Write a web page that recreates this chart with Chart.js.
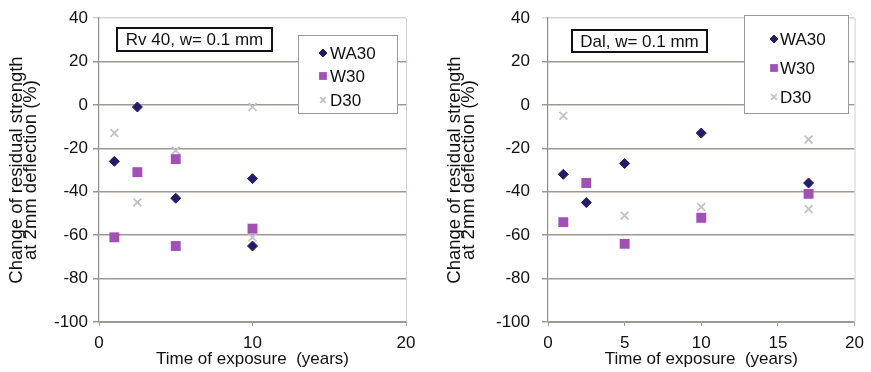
<!DOCTYPE html>
<html>
<head>
<meta charset="utf-8">
<script src="https://cdn.jsdelivr.net/npm/chart.js@4.4.0/dist/chart.umd.min.js"></script>
<style>
  body { margin: 0; background: #fff; }
  #wrap { position: relative; width: 871px; height: 372px; }
  canvas { position: absolute; top: 0; }
</style>
</head>
<body>
<div id="wrap">
  <canvas id="rv40" width="435" height="372" style="left:0px"></canvas>
  <canvas id="dal" width="436" height="372" style="left:435px"></canvas>
</div>
<script>
const seriesNames = ['WA30', 'W30', 'D30'];
const yTicks = [40, 20, 0, -20, -40, -60, -80, -100];

// Rv 40, w= 0.1 mm
const rvWA30x = [1, 2.5, 5, 10, 10];
const rvWA30y = [-26, -1, -43, -34, -65];
const rvW30x = [1, 2.5, 5, 5, 10];
const rvW30y = [-61, -31, -25, -65, -57];
const rvD30x = [1, 2.5, 5, 10, 10];
const rvD30y = [-13, -45, -21, -61, -1];
const rvXTicks = [0, 10, 20];

// Dal, w= 0.1 mm
const dalWA30x = [1, 2.5, 5, 10, 17];
const dalWA30y = [-32, -45, -27, -13, -36];
const dalW30x = [1, 2.5, 5, 10, 17];
const dalW30y = [-54, -36, -64, -52, -41];
const dalD30x = [1, 5, 10, 17, 17];
const dalD30y = [-5, -51, -47, -16, -48];
const dalXTicks = [0, 5, 10, 15, 20];

const FONT = "'Liberation Sans', Arial, sans-serif";

const styles = [
  { pointStyle: 'rectRot', radius: 5, color: '#231c6c', border: 1 },
  { pointStyle: 'rect', radius: 7, color: '#a24fb6', border: 0 },
  { pointStyle: 'crossRot', radius: 5.5, color: '#c4c0c8', border: 1.8 }
];

function zip(xs, ys) {
  return xs.map((x, i) => ({ x: x, y: ys[i] }));
}

function drawMarker(ctx, st, r, x, y) {
  ctx.save();
  ctx.fillStyle = st.color;
  ctx.strokeStyle = st.color;
  ctx.lineWidth = st.border || 0.01;
  Chart.helpers.drawPoint(ctx, { pointStyle: st.pointStyle, radius: r, rotation: 0, borderWidth: st.border }, x, y);
  ctx.restore();
}

// label box, legend box and the light frame round the plot
const decor = {
  id: 'decor',
  beforeDatasetsDraw(chart) {
    const ctx = chart.ctx;
    const a = chart.chartArea;
    ctx.save();
    ctx.strokeStyle = '#cfcfcf';
    ctx.lineWidth = 1;
    ctx.beginPath();
    ctx.moveTo(a.right + 0.5, a.top);
    ctx.lineTo(a.right + 0.5, a.bottom);
    ctx.stroke();
    ctx.restore();
  },
  afterDraw(chart) {
    const o = chart.options.plugins.decor;
    const ctx = chart.ctx;
    ctx.save();
    // label
    const lb = o.label;
    ctx.fillStyle = '#fff';
    ctx.fillRect(lb.x, lb.y, lb.w, lb.h);
    ctx.strokeStyle = '#111';
    ctx.lineWidth = 2;
    ctx.strokeRect(lb.x, lb.y, lb.w, lb.h);
    ctx.fillStyle = '#111';
    ctx.font = '17px ' + FONT;
    ctx.textAlign = 'center';
    ctx.textBaseline = 'middle';
    ctx.fillText(lb.text, lb.x + lb.w / 2, lb.y + lb.h / 2 + 1);
    // legend
    const lg = o.legend;
    ctx.fillStyle = '#fff';
    ctx.fillRect(lg.x, lg.y, lg.w, lg.h);
    ctx.strokeStyle = '#9a9a9a';
    ctx.lineWidth = 1;
    ctx.strokeRect(lg.x + 0.5, lg.y + 0.5, lg.w, lg.h);
    ctx.textAlign = 'left';
    chart.data.datasets.forEach((ds, i) => {
      const y = lg.rows[i];
      const r = [4, 5.5, 4][i];
      drawMarker(ctx, styles[i], r, lg.mx, y);
      ctx.fillStyle = '#111';
      ctx.fillText(ds.label, lg.tx, y + 1);
    });
    ctx.restore();
  }
};

function makeChart(id, xs, ys, xTicks, opt) {
  const datasets = seriesNames.map((name, i) => ({
    label: name,
    data: zip(xs[i], ys[i]),
    pointStyle: styles[i].pointStyle,
    pointRadius: styles[i].radius,
    pointBackgroundColor: styles[i].color,
    pointBorderColor: styles[i].color,
    pointBorderWidth: styles[i].border,
    showLine: false
  }));
  return new Chart(document.getElementById(id), {
    type: 'scatter',
    data: { datasets: datasets },
    options: {
      responsive: false,
      animation: false,
      layout: { padding: { left: 0, top: 18, right: opt.padRight, bottom: 0 } },
      plugins: {
        legend: { display: false },
        tooltip: { enabled: false },
        decor: { label: opt.label, legend: opt.legend }
      },
      scales: {
        x: {
          type: 'linear',
          min: 0, max: 20,
          afterBuildTicks: s => { s.ticks = xTicks.map(v => ({ value: v })); },
          afterFit: s => { s.height = 50; },
          border: { color: '#9c9c9c', width: 1 },
          grid: { drawOnChartArea: false, tickLength: 4, color: '#9c9c9c' },
          ticks: { color: '#111', padding: 7, maxRotation: 0, font: { family: FONT, size: 17 } },
          title: {
            display: true,
            text: 'Time of exposure  (years)',
            color: '#111',
            padding: { top: 0, bottom: 2 },
            font: { family: FONT, size: 17 }
          }
        },
        y: {
          min: -100, max: 40,
          afterBuildTicks: s => { s.ticks = yTicks.map(v => ({ value: v })); },
          // fixed axis width; label overhang is covered by the layout padding
          afterFit: s => { s.width = opt.yWidth; s.paddingTop = 0; s.paddingBottom = 0; },
          border: { color: '#8e8e8e', width: 1.2 },
          grid: {
            tickLength: 6,
            lineWidth: 1.5,
            color: c => (c.tick && c.tick.value === 40) ? '#d4d4d4' : '#a2978f'
          },
          ticks: { color: '#111', padding: opt.yPad, font: { family: FONT, size: 17 } },
          title: {
            display: true,
            text: ['Change of residual strength', 'at 2mm deflection (%)'],
            color: '#111',
            padding: { top: opt.titlePad, bottom: 0 },
            font: { family: FONT, size: 18.5, lineHeight: 0.76 }
          }
        }
      }
    },
    plugins: [decor]
  });
}

makeChart('rv40',
  [rvWA30x, rvW30x, rvD30x],
  [rvWA30y, rvW30y, rvD30y],
  rvXTicks,
  {
    padRight: 29, yWidth: 99, yPad: 5, titlePad: 10,
    label: { text: 'Rv 40, w= 0.1 mm', x: 117, y: 28, w: 155, h: 23 },
    legend: { x: 298, y: 35, w: 99, h: 78, mx: 323, tx: 330, rows: [53, 76, 100] }
  });

makeChart('dal',
  [dalWA30x, dalW30x, dalD30x],
  [dalWA30y, dalW30y, dalD30y],
  dalXTicks,
  {
    padRight: 14, yWidth: 113, yPad: 12, titlePad: 13,
    label: { text: 'Dal, w= 0.1 mm', x: 137, y: 30, w: 135, h: 22 },
    legend: { x: 309, y: 15, w: 104, h: 98, mx: 339, tx: 345, rows: [39, 68, 97] }
  });
</script>
</body>
</html>
